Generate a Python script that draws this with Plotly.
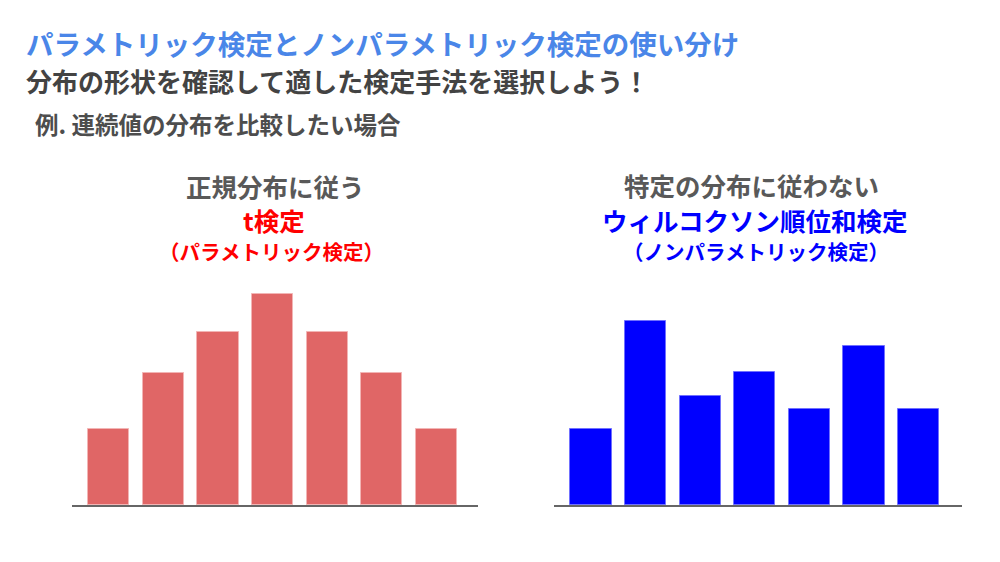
import plotly.graph_objects as go

# ---- data ----
bins = [0, 1, 2, 3, 4, 5, 6]
normal_counts = [4.0, 7.0, 9.17, 11.16, 9.17, 7.0, 4.0]
other_counts = [4.02, 9.75, 5.77, 7.02, 5.1, 8.43, 5.1]

title_text = "パラメトリック検定とノンパラメトリック検定の使い分け"
subtitle_text = "分布の形状を確認して適した検定手法を選択しよう！"
example_text = "例. 連続値の分布を比較したい場合"
left_heads = ["正規分布に従う", "t検定", "（パラメトリック検定）"]
right_heads = ["特定の分布に従わない", "ウィルコクソン順位和検定", "（ノンパラメトリック検定）"]

W, H = 1000, 562
FONT = "Noto Sans CJK JP"

def px(x):
    return x / W

def py(y):
    return (H - y) / H

fig = go.Figure()
fig.add_trace(go.Bar(x=bins, y=normal_counts, width=0.756,
                     marker=dict(color="#E06666", line=dict(color="#F2B5B5", width=1)),
                     xaxis="x", yaxis="y", showlegend=False, hoverinfo="skip"))
fig.add_trace(go.Bar(x=bins, y=other_counts, width=0.756,
                     marker=dict(color="#0000FF", line=dict(color="#7070FF", width=1)),
                     xaxis="x2", yaxis="y2", showlegend=False, hoverinfo="skip"))

ytop = 281
yrange = [0, (505 - ytop) / 18.9]
axis_common = dict(showgrid=False, zeroline=False, showticklabels=False, ticks="",
                   fixedrange=True)
fig.update_layout(
    width=W, height=H,
    margin=dict(l=0, r=0, t=0, b=0),
    paper_bgcolor="white", plot_bgcolor="rgba(0,0,0,0)",
    xaxis=dict(domain=[px(72), px(478)], range=[-0.674, 6.764], showline=True,
               linecolor="#666666", linewidth=2, anchor="y", **axis_common),
    yaxis=dict(domain=[py(505), py(ytop)], range=yrange, visible=False, anchor="x",
               fixedrange=True),
    xaxis2=dict(domain=[px(554), px(962)], range=[-0.674, 6.79], showline=True,
                linecolor="#666666", linewidth=2, anchor="y2", **axis_common),
    yaxis2=dict(domain=[py(505), py(ytop)], range=yrange, visible=False, anchor="x2",
                fixedrange=True),
    bargap=0,
)

ann = []
def add(text, x, y, size, color, anchor="center"):
    ann.append(dict(text="<b>" + text + "</b>", x=px(x), y=py(y), xref="paper", yref="paper",
                    xanchor=anchor, yanchor="middle", showarrow=False,
                    font=dict(family=FONT, size=size, color=color)))

add(title_text, 24, 43.5, 27.5, "#4A86E8", "left")
add(subtitle_text, 24, 80.5, 26, "#434343", "left")
add(example_text, 33, 124, 23.5, "#4D4D4D", "left")

add(left_heads[0], 275, 185, 25.5, "#595959")
add(left_heads[1], 274, 219.5, 25.5, "#FF0000")
add(left_heads[2], 271, 250.5, 20.5, "#FF0000")

add(right_heads[0], 751, 184.5, 25.5, "#595959")
add(right_heads[1], 755, 219, 25.5, "#0000FF")
add(right_heads[2], 756, 250.5, 20.5, "#0000FF")

fig.update_layout(annotations=ann)
fig.write_html("out.html")
